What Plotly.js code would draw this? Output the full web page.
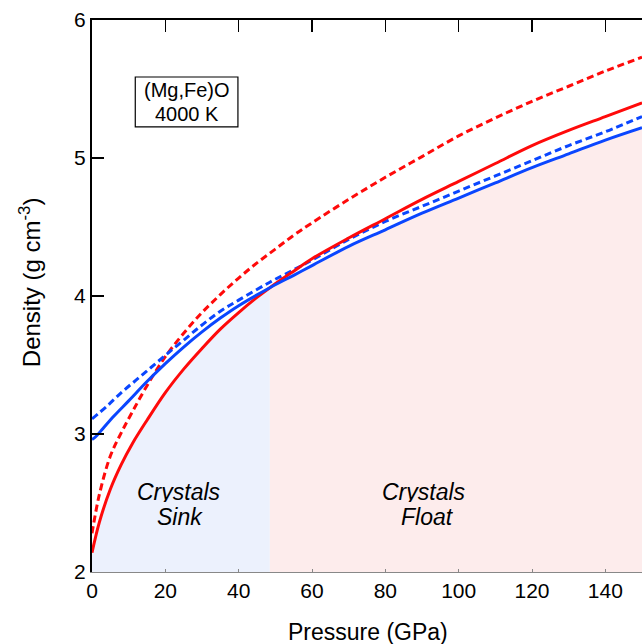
<!DOCTYPE html>
<html>
<head>
<meta charset="utf-8">
<script src="https://cdn.plot.ly/plotly-3.0.1.min.js"></script>
<style>html,body{margin:0;padding:0;background:#fff;}#chart{width:643px;height:644px;}</style>
</head>
<body>
<div id="chart"></div>
<script>
// Pressure (GPa) and density (g cm^-3)
const liquidP   = [0, 2, 5, 8, 11, 15, 20, 25, 30, 35, 40, 45, 48.5, 55, 60, 70, 80, 90, 100, 110, 120, 130, 140, 150];
const liquidRho = [2.14, 2.36, 2.60, 2.78, 2.93, 3.10, 3.30, 3.47, 3.62, 3.76, 3.88, 3.99, 4.06, 4.18, 4.27, 4.42, 4.56, 4.70, 4.83, 4.96, 5.09, 5.20, 5.30, 5.40];

const liquidDashP   = [0, 2, 5, 8, 11, 15, 20, 25, 30, 35, 40, 45, 50, 55, 60, 70, 80, 90, 100, 110, 120, 130, 140, 150];
const liquidDashRho = [2.28, 2.56, 2.84, 3.01, 3.16, 3.35, 3.56, 3.73, 3.88, 4.01, 4.13, 4.24, 4.34, 4.44, 4.53, 4.70, 4.86, 5.01, 5.16, 5.29, 5.41, 5.52, 5.63, 5.73];

const crystalP   = [0, 1, 3, 6, 10, 15, 20, 25, 30, 35, 40, 48.5, 55, 60, 70, 80, 90, 100, 110, 120, 130, 140, 150];
const crystalRho = [2.96, 2.98, 3.04, 3.13, 3.24, 3.38, 3.51, 3.63, 3.74, 3.84, 3.93, 4.06, 4.15, 4.22, 4.36, 4.48, 4.60, 4.71, 4.82, 4.93, 5.03, 5.13, 5.22];

const crystalDashP   = [0, 4, 8, 12, 16, 20, 25, 30, 35, 40, 48.5, 55, 60, 70, 80, 90, 100, 110, 120, 130, 140, 150];
const crystalDashRho = [3.11, 3.20, 3.30, 3.39, 3.48, 3.57, 3.68, 3.79, 3.89, 3.97, 4.10, 4.19, 4.26, 4.41, 4.54, 4.65, 4.76, 4.87, 4.98, 5.09, 5.19, 5.30];

const crossoverP = 48.5;
const xTicks = [0, 20, 40, 60, 80, 100, 120, 140];
const yTicks = [2, 3, 4, 5, 6];

const RED = '#ff0a0a', BLUE = '#0a46ff';
const FONT = 'Liberation Sans, Arial, Helvetica, sans-serif';
const DASH = '7px,4px';

const sinkIdx = liquidP.map((p, i) => i).filter(i => liquidP[i] <= crossoverP);
const sinkP = sinkIdx.map(i => liquidP[i]);
const sinkRho = sinkIdx.map(i => liquidRho[i]);
const floatIdx = crystalP.map((p, i) => i).filter(i => crystalP[i] >= crossoverP);
const floatP = floatIdx.map(i => crystalP[i]);
const floatRho = floatIdx.map(i => crystalRho[i]);

const traces = [
  {x: sinkP, y: sinkRho, mode: 'lines', line: {width: 0, shape: 'spline'}, fill: 'tozeroy', fillcolor: 'rgb(236,241,253)', hoverinfo: 'skip', showlegend: false},
  {x: floatP, y: floatRho, mode: 'lines', line: {width: 0, shape: 'spline'}, fill: 'tozeroy', fillcolor: 'rgb(253,236,236)', hoverinfo: 'skip', showlegend: false},
  {x: liquidDashP, y: liquidDashRho, mode: 'lines', line: {color: RED, width: 3, dash: DASH, shape: 'spline'}, showlegend: false},
  {x: crystalDashP, y: crystalDashRho, mode: 'lines', line: {color: BLUE, width: 3, dash: DASH, shape: 'spline'}, showlegend: false},
  {x: liquidP, y: liquidRho, mode: 'lines', line: {color: RED, width: 3, shape: 'spline'}, showlegend: false},
  {x: crystalP, y: crystalRho, mode: 'lines', line: {color: BLUE, width: 3, shape: 'spline'}, showlegend: false},
  // empty trace so the top (mirror) axis is drawn
  {x: [0], y: [null], xaxis: 'x2', yaxis: 'y', mode: 'lines', showlegend: false, hoverinfo: 'skip'}
];

const layout = {
  width: 643, height: 644,
  margin: {l: 92, r: 1, t: 20, b: 72},
  paper_bgcolor: '#fff', plot_bgcolor: '#fff',
  font: {family: FONT, size: 21, color: '#000'},
  showlegend: false,
  xaxis: {
    range: [0, 150], tickvals: xTicks, ticktext: xTicks.map(String),
    showgrid: false, zeroline: false,
    showline: true, linecolor: '#888', linewidth: 1,
    ticks: 'inside', ticklen: 3, tickcolor: '#888', tickwidth: 1,
    tickfont: {size: 21, family: FONT},
    automargin: false
  },
  xaxis2: {
    overlaying: 'x', side: 'top', anchor: 'y', matches: 'x', range: [0, 150],
    tickvals: xTicks, showticklabels: false,
    showgrid: false, zeroline: false,
    showline: true, linecolor: '#000', linewidth: 2,
    ticks: 'inside', ticklen: 12, tickcolor: '#000', tickwidth: 1.5
  },
  yaxis: {
    range: [2, 6], tickvals: yTicks, ticktext: yTicks.map(String),
    showgrid: false, zeroline: false,
    showline: true, linecolor: '#000', linewidth: 2,
    ticks: 'inside', ticklen: 12, tickcolor: '#000', tickwidth: 1.5,
    tickfont: {size: 21, family: FONT},
    automargin: false
  },
  shapes: [
    {type: 'rect', xref: 'x', yref: 'y', x0: 11.8, x1: 39.8, y0: 5.225, y1: 5.587,
     line: {color: '#000', width: 1.2}, fillcolor: '#fff', layer: 'above'}
  ],
  annotations: [
    // axis titles
    {xref: 'paper', yref: 'paper', x: 0.502, y: 0, yanchor: 'middle', yshift: -60,
     text: 'Pressure (GPa)', showarrow: false, font: {size: 23, family: FONT}},
    {xref: 'paper', yref: 'paper', x: 0, y: 0.525, xanchor: 'center', xshift: -62, textangle: -90,
     text: 'Density (g cm<sup>-3</sup>)', showarrow: false, font: {size: 24, family: FONT}},
    // label box
    {x: 25.8, y: 5.493, xref: 'x', yref: 'y', text: '(Mg,Fe)O', showarrow: false, height: 22, font: {size: 20, family: FONT}},
    {x: 25.8, y: 5.319, xref: 'x', yref: 'y', text: '4000 K', showarrow: false, height: 22, font: {size: 20, family: FONT}},
    // region labels
    {x: 23.7, y: 2.58, xref: 'x', yref: 'y', text: '<i>Crystals</i>', showarrow: false, height: 21, font: {size: 23, family: FONT}},
    {x: 23.9, y: 2.40, xref: 'x', yref: 'y', text: '<i>Sink</i>', showarrow: false, height: 21, font: {size: 23, family: FONT}},
    {x: 90.5, y: 2.58, xref: 'x', yref: 'y', text: '<i>Crystals</i>', showarrow: false, height: 21, font: {size: 23, family: FONT}},
    {x: 91.6, y: 2.40, xref: 'x', yref: 'y', text: '<i>Float</i>', showarrow: false, height: 21, font: {size: 23, family: FONT}}
  ]
};

Plotly.newPlot('chart', traces, layout, {displayModeBar: false, staticPlot: true});
</script>
</body>
</html>
